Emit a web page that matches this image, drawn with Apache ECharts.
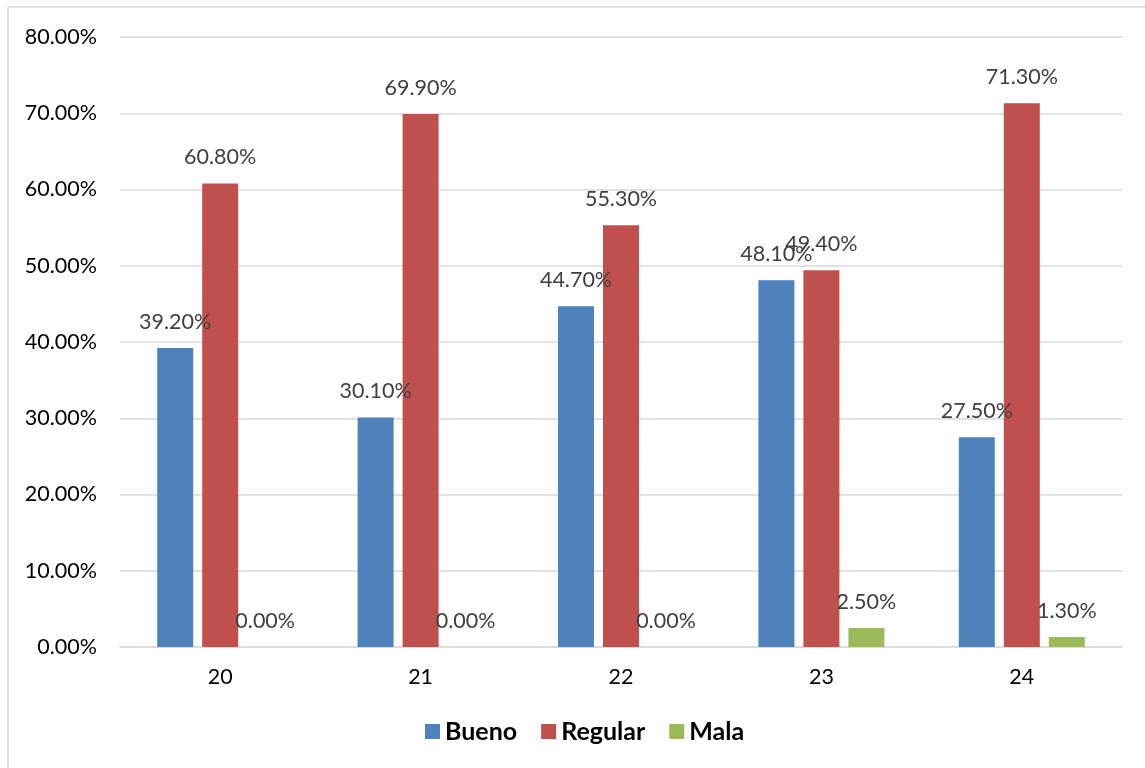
<!DOCTYPE html>
<html>
<head>
<meta charset="utf-8">
<script src="https://cdn.jsdelivr.net/npm/echarts@6/dist/echarts.min.js"></script>
<style>
  html, body { margin: 0; padding: 0; background: #fff; }
  #chart { width: 1145px; height: 768px; }
</style>
</head>
<body>
<div id="chart"></div>
<script>
// Categories along the x axis
const categories = ['20', '21', '22', '23', '24'];
// Percentages per rating
const bueno   = [39.2, 30.1, 44.7, 48.1, 27.5];
const regular = [60.8, 69.9, 55.3, 49.4, 71.3];
const mala    = [0.0, 0.0, 0.0, 2.5, 1.3];
const seriesNames = ['Bueno', 'Regular', 'Mala'];
const colors = ['#4F81BD', '#C0504D', '#9BBB59'];

const FONT = 'Lato, "Liberation Sans", Arial, sans-serif';

const chart = echarts.init(document.getElementById('chart'), null, { renderer: 'canvas' });

function barSeries(name, data, color) {
  return {
    name: name,
    type: 'bar',
    data: data,
    barWidth: 36,
    barGap: '25%',
    itemStyle: { color: color },
    label: {
      show: true,
      position: 'top',
      distance: 15,
      color: '#404040',
      fontFamily: FONT,
      fontSize: 21.5,
      formatter: p => p.value.toFixed(2) + '%'
    }
  };
}

chart.setOption({
  animation: false,
  backgroundColor: '#fff',
  color: colors,
  graphic: [
    { type: 'line', shape: { x1: 8, y1: 7, x2: 8, y2: 768 }, style: { stroke: '#d9d9d9', lineWidth: 1.5 } },
    { type: 'line', shape: { x1: 8, y1: 7, x2: 1145, y2: 7 }, style: { stroke: '#d9d9d9', lineWidth: 1.5 } }
  ],
  grid: { left: 120, right: 23, top: 37, bottom: 121, containLabel: false },
  legend: {
    bottom: 19,
    left: 420,
    itemWidth: 15,
    itemHeight: 15,
    itemGap: 24,
    icon: 'rect',
    data: seriesNames,
    textStyle: { fontFamily: FONT, fontSize: 25, fontWeight: 'bold', color: '#000' }
  },
  xAxis: {
    type: 'category',
    data: categories,
    axisLine: { show: true, lineStyle: { color: '#d9d9d9', width: 1.5 } },
    axisTick: { show: false },
    axisLabel: { color: '#000', fontFamily: FONT, fontSize: 21.5, margin: 19 }
  },
  yAxis: {
    type: 'value',
    min: 0,
    max: 80,
    interval: 10,
    axisLine: { show: false },
    axisTick: { show: false },
    splitLine: { lineStyle: { color: '#d9d9d9', width: 1.5 } },
    axisLabel: {
      color: '#000', fontFamily: FONT, fontSize: 21.5, margin: 23,
      formatter: v => v.toFixed(2) + '%'
    }
  },
  series: [
    barSeries(seriesNames[0], bueno, colors[0]),
    barSeries(seriesNames[1], regular, colors[1]),
    barSeries(seriesNames[2], mala, colors[2])
  ]
});
</script>
</body>
</html>
